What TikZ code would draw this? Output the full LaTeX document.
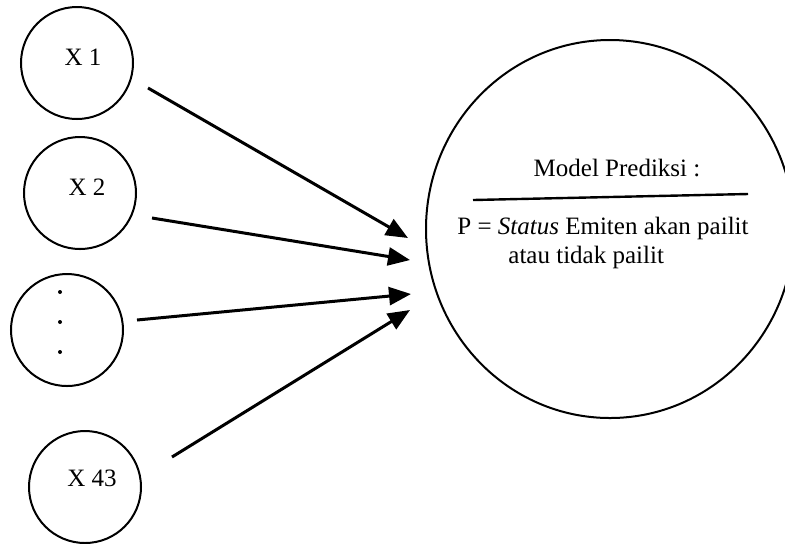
\documentclass[tikz,border=0pt]{standalone}
\usepackage{fontspec}
\setmainfont{Liberation Serif}
\usetikzlibrary{arrows.meta,shapes.geometric}
\begin{document}
\begin{tikzpicture}[x=0.5pt,y=-0.5pt,
  small/.style={circle,draw,line width=1pt,minimum size=56pt,inner sep=0pt},
  big/.style={ellipse,draw,line width=1pt,minimum width=184pt,minimum height=189pt,inner sep=0pt},
  lbl/.style={font=\fontsize{12.5}{15}\selectfont,inner sep=0pt},
  arr/.style={line width=1.5pt,-{Triangle[length=11pt,width=9pt]}},
  dotn/.style={circle,fill,inner sep=0pt,minimum size=2pt}]
\useasboundingbox (0,0) rectangle (785,543);
% input circles
\node[small] (c1) at (77,63) {};
\node[small] (c2) at (80,193) {};
\node[small] (c3) at (67,330) {};
\node[small] (c4) at (85,487) {};
\node[lbl] (t1) at (83,57) {X 1};
\node[lbl] (t2) at (87,187) {X 2};
\node[lbl] (t4) at (92,478) {X 43};
\node[dotn] (d1) at (60,292) {};
\node[dotn] (d2) at (60,322) {};
\node[dotn] (d3) at (60,352) {};
% model circle
\node[big] (model) at (610,229) {};
\node[lbl] (mp) at (617,168) {Model Prediksi :};
\coordinate (l1) at (473,200);
\coordinate (l2) at (748,194);
\draw[line width=1.2pt] (l1) -- (l2);
\node[lbl,anchor=west] (p) at (457,228) {P = \textit{Status} Emiten akan pailit};
\node[lbl,anchor=west] (q) at (508,257) {atau tidak pailit};
% arrows
\coordinate (s1) at (148,88);  \coordinate (e1) at (408,238);
\coordinate (s2) at (152,218); \coordinate (e2) at (410,260);
\coordinate (s3) at (137,320); \coordinate (e3) at (411,294);
\coordinate (s4) at (172,457); \coordinate (e4) at (410,310);
\draw[arr] (s1) -- (e1);
\draw[arr] (s2) -- (e2);
\draw[arr] (s3) -- (e3);
\draw[arr] (s4) -- (e4);
\end{tikzpicture}
\end{document}
